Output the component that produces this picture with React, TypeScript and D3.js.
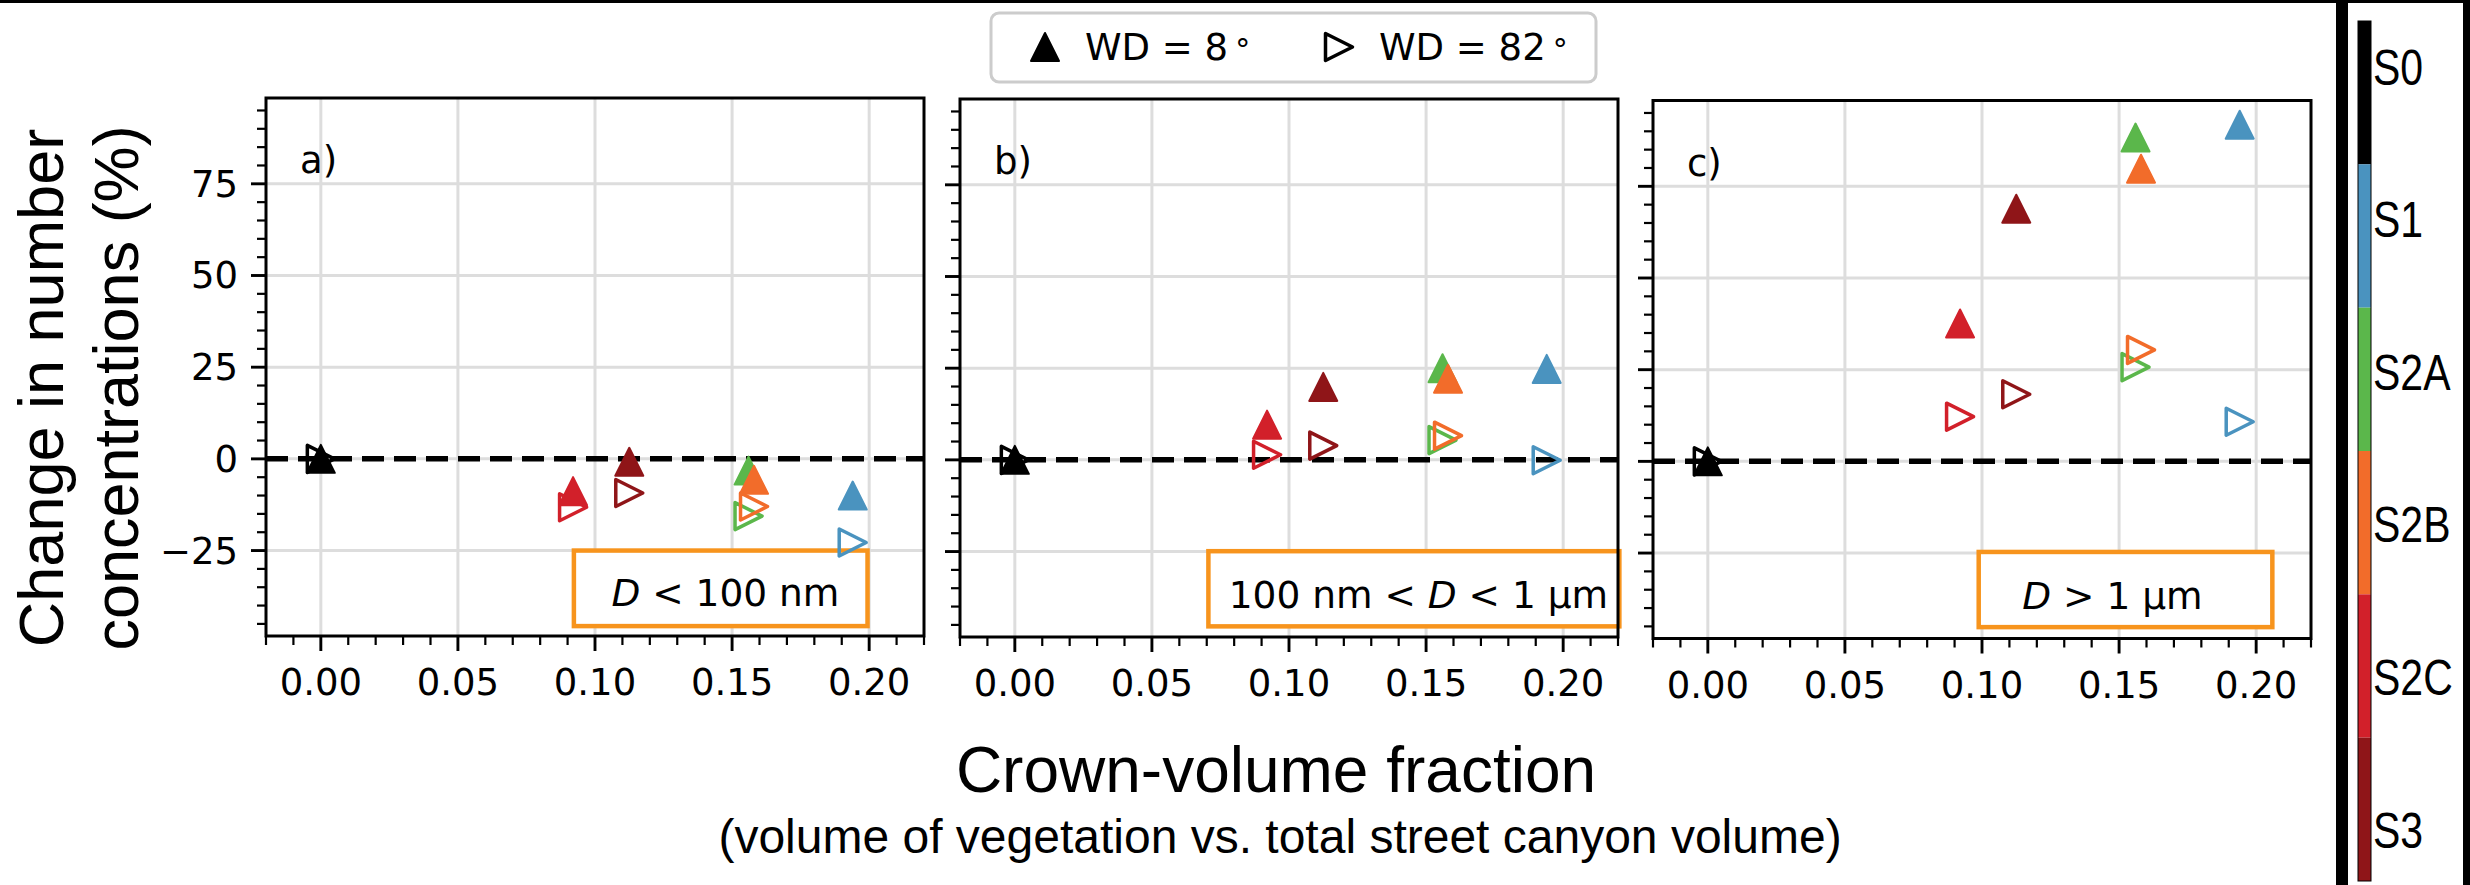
import React from 'react';
import * as d3 from 'd3';

// ---------------- data ----------------
const scenarios = ['S0', 'S1', 'S2A', 'S2B', 'S2C', 'S3'];
const scenarioColors = ['#000000', '#4A93BF', '#5BB74B', '#F26C2A', '#D2202A', '#8F1518'];
const crownVolumeFraction = [0.0, 0.194, 0.156, 0.158, 0.092, 0.1125];

// change in number concentrations (%), per size class
const wd8_small = [0, -10.0, -3.2, -5.7, -8.8, -0.8];
const wd82_small = [0, -22.8, -15.6, -13.0, -13.2, -9.3];
const wd8_mid = [0, 24.8, 25.0, 22.1, 9.6, 19.9];
const wd82_mid = [0, -0.1, 5.4, 6.6, 1.4, 3.9];
const wd8_large = [0, 91.8, 88.3, 79.8, 37.6, 68.9];
const wd82_large = [0, 10.8, 25.7, 30.4, 12.2, 18.3];

const panelLabels = ['a)', 'b)', 'c)'];
const xTicks = [0, 0.05, 0.1, 0.15, 0.2];
const xTickLabels = ['0.00', '0.05', '0.10', '0.15', '0.20'];
const yTicks = [-25, 0, 25, 50, 75];
const yTickLabels = ['\u221225', '0', '25', '50', '75'];
const xDomain = [-0.02, 0.22];
const yDomain = [-48.3, 98.4];
const legendLabels = ['WD = 8', 'WD = 82'];

// size-class boxes (data coordinates of each panel)
const boxX0 = [0.0923, 0.0706, 0.0988];
const boxX1 = [0.1994, 0.2205, 0.2059];
const boxY0 = [-45.6, -45.4, -45.2];
const boxY1 = [-25.0, -24.9, -24.7];
const boxTextX = [0.106, 0.078, 0.1147];
const boxTextY = [-40.1, -40.4, -40.3];

// ---------------- layout ----------------
const W = 2470;
const H = 885;
const panelLeft = [266, 960, 1653];
const panelTop = [98, 99, 100.5];
const panelW = 658;
const panelH = 538;

const sans = 'DejaVu Sans';
const arial = 'Liberation Sans';
const grid = '#dddddd';
const boxColor = '#F7941D';
const fs = 37;

function triUp(cx: number, cy: number, s: number) {
  return `M${cx},${cy - s}L${cx + s},${cy + s}L${cx - s},${cy + s}Z`;
}
function triRight(cx: number, cy: number, s: number) {
  return `M${cx + s},${cy}L${cx - s},${cy + s}L${cx - s},${cy - s}Z`;
}

function BoxText({ i }: { i: number }) {
  if (i === 0)
    return (
      <>
        <tspan fontStyle="italic">D</tspan>
        <tspan> &lt; 100 nm</tspan>
      </>
    );
  if (i === 1)
    return (
      <>
        <tspan>100 nm &lt; </tspan>
        <tspan fontStyle="italic">D</tspan>
        <tspan> &lt; 1 µm</tspan>
      </>
    );
  return (
    <>
      <tspan fontStyle="italic">D</tspan>
      <tspan> &gt; 1 µm</tspan>
    </>
  );
}

function Panel({ i, up, right }: { i: number; up: number[]; right: number[] }) {
  const left = panelLeft[i];
  const top = panelTop[i];
  const x = d3.scaleLinear().domain(xDomain).range([left, left + panelW]);
  const y = d3.scaleLinear().domain(yDomain).range([top + panelH, top]);
  const bottom = top + panelH;
  const xMinor = d3.range(-2, 23).map((k) => k / 100).filter((v) => !xTicks.some((t) => Math.abs(t - v) < 1e-9));
  const yMinor = d3.range(-45, 100, 5).filter((v) => !yTicks.includes(v));
  return (
    <g>
      <rect x={left} y={top} width={panelW} height={panelH} fill="#fff" />
      {xTicks.map((t) => (
        <line key={'gx' + t} x1={x(t)} x2={x(t)} y1={top} y2={bottom} stroke={grid} strokeWidth={3} />
      ))}
      {yTicks.map((t) => (
        <line key={'gy' + t} x1={left} x2={left + panelW} y1={y(t)} y2={y(t)} stroke={grid} strokeWidth={3} />
      ))}
      {/* size class box */}
      <rect
        x={x(boxX0[i])}
        y={y(boxY1[i])}
        width={x(boxX1[i]) - x(boxX0[i])}
        height={y(boxY0[i]) - y(boxY1[i])}
        fill="#fff"
        stroke={boxColor}
        strokeWidth={4.5}
      />
      <text x={x(boxTextX[i])} y={y(boxTextY[i])} fontFamily={sans} fontSize={37.5} fill="#000">
        <BoxText i={i} />
      </text>
      <line x1={left} x2={left + panelW} y1={y(0)} y2={y(0)} stroke="#000" strokeWidth={5.5} strokeDasharray="22,10" />
      {scenarios.map((s, k) => (
        <path
          key={'r' + s}
          d={triRight(x(crownVolumeFraction[k]), y(right[k]), 13.5)}
          fill="none"
          stroke={scenarioColors[k]}
          strokeWidth={3.5}
          strokeLinejoin="round"
        />
      ))}
      {scenarios.map((s, k) => (
        <path
          key={'u' + s}
          d={triUp(x(crownVolumeFraction[k]), y(up[k]), 14)}
          fill={scenarioColors[k]}
          stroke={scenarioColors[k]}
          strokeWidth={2}
          strokeLinejoin="round"
        />
      ))}
      <text x={left + 34} y={top + 75} fontFamily={sans} fontSize={fs} fill="#000">
        {panelLabels[i]}
      </text>
      {/* ticks */}
      {xTicks.map((t) => (
        <line key={'tx' + t} x1={x(t)} x2={x(t)} y1={bottom} y2={bottom + 15} stroke="#000" strokeWidth={2.9} />
      ))}
      {xMinor.map((t) => (
        <line key={'mx' + t} x1={x(t)} x2={x(t)} y1={bottom} y2={bottom + 9} stroke="#000" strokeWidth={2.2} />
      ))}
      {yTicks.map((t) => (
        <line key={'ty' + t} x1={left - 15} x2={left} y1={y(t)} y2={y(t)} stroke="#000" strokeWidth={2.9} />
      ))}
      {yMinor.map((t) => (
        <line key={'my' + t} x1={left - 9} x2={left} y1={y(t)} y2={y(t)} stroke="#000" strokeWidth={2.2} />
      ))}
      {xTicks.map((t, k) => (
        <text key={'lx' + t} x={x(t)} y={bottom + 59} textAnchor="middle" fontFamily={sans} fontSize={fs} fill="#000">
          {xTickLabels[k]}
        </text>
      ))}
      {i === 0 &&
        yTicks.map((t, k) => (
          <text key={'ly' + t} x={left - 28} y={y(t) + 13} textAnchor="end" fontFamily={sans} fontSize={fs} fill="#000">
            {yTickLabels[k]}
          </text>
        ))}
      <rect x={left} y={top} width={panelW} height={panelH} fill="none" stroke="#000" strokeWidth={3} />
    </g>
  );
}

export default function App() {
  const cbTop = 21;
  const cbBottom = 881;
  const cb = d3.scaleLinear().domain([0, scenarios.length]).range([cbTop, cbBottom]);
  const cbLabel = d3.scaleLinear().domain([0, scenarios.length - 1]).range([67, 830]);
  return (
    <svg
      width={W}
      height={H}
      viewBox={`0 0 ${W} ${H}`}
      style={{ position: 'absolute', left: 0, top: 0, background: '#fff' }}
    >
      <rect x={0} y={0} width={W} height={H} fill="#fff" />
      <Panel i={0} up={wd8_small} right={wd82_small} />
      <Panel i={1} up={wd8_mid} right={wd82_mid} />
      <Panel i={2} up={wd8_large} right={wd82_large} />

      {/* y label */}
      <g transform="translate(0,388) rotate(-90)">
        <text x={0} y={63} textAnchor="middle" fontFamily={arial} fontSize={63} fill="#000">
          Change in number
        </text>
        <text x={0} y={138} textAnchor="middle" fontFamily={arial} fontSize={63} fill="#000">
          concentrations (%)
        </text>
      </g>

      {/* x label */}
      <text x={1276} y={792} textAnchor="middle" fontFamily={arial} fontSize={64} fill="#000">
        Crown-volume fraction
      </text>
      <text x={1280} y={853} textAnchor="middle" fontFamily={arial} fontSize={48} fill="#000">
        (volume of vegetation vs. total street canyon volume)
      </text>

      {/* legend */}
      <rect x={991} y={13} width={605} height={69} rx={8} ry={8} fill="#fff" fillOpacity={0.8} stroke="#cccccc" strokeWidth={3} />
      <path d={triUp(1045, 47, 14)} fill="#000" stroke="#000" strokeWidth={2} strokeLinejoin="round" />
      <text x={1085} y={60} fontFamily={sans} fontSize={fs} fill="#000">
        {legendLabels[0]}
        <tspan dx={7} fontSize={30}>°</tspan>
      </text>
      <path d={triRight(1339, 47, 13.5)} fill="none" stroke="#000" strokeWidth={3.5} strokeLinejoin="round" />
      <text x={1379} y={60} fontFamily={sans} fontSize={fs} fill="#000">
        {legendLabels[1]}
        <tspan dx={7} fontSize={30}>°</tspan>
      </text>

      {/* frame pieces */}
      <rect x={0} y={0} width={W} height={3} fill="#000" />
      <rect x={2336} y={0} width={12} height={H} fill="#000" />
      <rect x={2463} y={0} width={7} height={H} fill="#000" />

      {/* colorbar */}
      {scenarios.map((s, k) => (
        <rect key={'cb' + s} x={2358} y={cb(k)} width={13} height={cb(k + 1) - cb(k)} fill={scenarioColors[k]} />
      ))}
      <rect x={2358} y={cbTop} width={13} height={cbBottom - cbTop} fill="none" stroke="#000" strokeWidth={1} />
      {scenarios.map((s, k) => (
        <text
          key={'cbl' + s}
          transform={`translate(2373,${cbLabel(k) + 17.6}) scale(1,1.2)`}
          fontFamily={arial}
          fontSize={41}
          fill="#000"
        >
          {s}
        </text>
      ))}
    </svg>
  );
}
